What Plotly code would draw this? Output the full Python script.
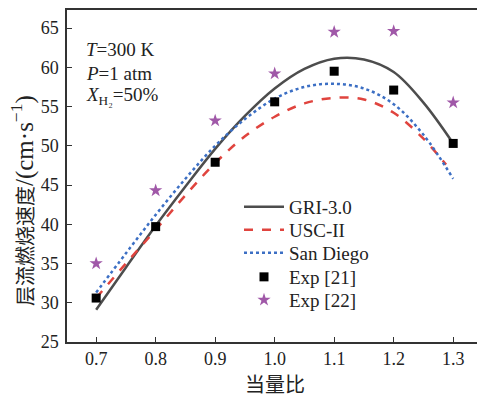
import plotly.graph_objects as go

# ---- data ----
phi_model = [0.70, 0.75, 0.80, 0.85, 0.90, 0.95, 1.00, 1.05, 1.10, 1.15, 1.20, 1.25, 1.30]
gri = [29.1, 34.5, 39.8, 44.8, 49.6, 53.8, 57.3, 59.8, 61.1, 61.0, 59.4, 55.5, 50.3]
phi_usc = [0.70, 0.75, 0.80, 0.85, 0.90, 0.95, 1.00, 1.05, 1.10, 1.15, 1.20, 1.25, 1.288]
usc = [30.6, 35.0, 39.3, 43.7, 47.8, 51.2, 53.7, 55.4, 56.1, 55.9, 54.2, 50.9, 47.6]
sandiego = [31.3, 36.3, 41.2, 45.8, 50.0, 53.4, 56.0, 57.5, 57.9, 57.3, 55.3, 51.4, 45.8]
phi_exp = [0.7, 0.8, 0.9, 1.0, 1.1, 1.2, 1.3]
exp21 = [30.6, 39.7, 47.9, 55.6, 59.5, 57.1, 50.3]
exp22 = [35.0, 44.3, 53.2, 59.2, 64.5, 64.6, 55.5]
x_ticks = [0.7, 0.8, 0.9, 1.0, 1.1, 1.2, 1.3]
x_ticklabels = ["0.7", "0.8", "0.9", "1.0", "1.1", "1.2", "1.3"]
y_ticks = [25, 30, 35, 40, 45, 50, 55, 60, 65]

FONT = "Times New Roman, Liberation Serif, Noto Sans CJK SC, serif"
AX = "#333333"

# plot area in pixels (for placing legends / labels)
L, T, W, H = 67, 10, 410, 332


def px_to_paper_y(py):
    return (T + H - py) / H


legend_names = ["legend", "legend2", "legend3", "legend4", "legend5"]
legend_centers = [207, 230, 253, 277, 300]

fig = go.Figure()
fig.add_trace(go.Scatter(x=phi_model, y=gri, mode="lines", name="GRI-3.0",
                         line=dict(color="#4d4d4d", width=2.5, shape="spline"),
                         legend=legend_names[0]))
fig.add_trace(go.Scatter(x=phi_usc, y=usc, mode="lines", name="USC-II",
                         line=dict(color="#e0443e", width=2.5, dash="dash", shape="spline"),
                         legend=legend_names[1]))
fig.add_trace(go.Scatter(x=phi_model, y=sandiego, mode="lines", name="San Diego",
                         line=dict(color="#3c6fc4", width=2.5, dash="dot", shape="spline"),
                         legend=legend_names[2]))
fig.add_trace(go.Scatter(x=phi_exp, y=exp21, mode="markers", name="Exp [21]",
                         marker=dict(symbol="square", size=9, color="black"),
                         legend=legend_names[3]))
fig.add_trace(go.Scatter(x=phi_exp, y=exp22, mode="markers", name="Exp [22]",
                         marker=dict(symbol="star", size=10, color="#a058a8"),
                         legend=legend_names[4]))

legend_layout = {}
for name, yc in zip(legend_names, legend_centers):
    legend_layout[name] = dict(x=(239 - L) / W, y=px_to_paper_y(yc),
                               xanchor="left", yanchor="middle",
                               bgcolor="rgba(0,0,0,0)",
                               font=dict(size=19, family=FONT, color="#222222"),
                               itemwidth=40)

fig.update_layout(
    width=477, height=397,
    margin=dict(l=L, r=0, t=T, b=397 - T - H),
    paper_bgcolor="white", plot_bgcolor="white",
    font=dict(family=FONT, size=17, color="#222222"),
    showlegend=True,
    xaxis=dict(range=[0.651, 1.340], tickvals=x_ticks, ticktext=x_ticklabels,
               ticks="inside", ticklen=5, tickwidth=1.2, tickcolor=AX,
               showline=True, linecolor=AX, linewidth=1.5, mirror=True,
               showgrid=False, zeroline=False,
               tickfont=dict(size=18, family=FONT)),
    yaxis=dict(range=[25, 67.3], tickvals=y_ticks,
               ticks="inside", ticklen=5, tickwidth=1.2, tickcolor=AX,
               showline=True, linecolor=AX, linewidth=1.5, mirror=False,
               showgrid=False, zeroline=False, ticklabelstandoff=3,
               tickfont=dict(size=18, family=FONT)),
    **legend_layout,
)

# axis titles
fig.add_annotation(text="当量比", xref="paper", yref="paper",
                   x=(275 - L) / W, y=px_to_paper_y(385),
                   xanchor="center", yanchor="middle", showarrow=False,
                   font=dict(size=20, family=FONT))
fig.add_annotation(text="层流燃烧速度<span style=\"font-size:25px\">/(cm·s<sup>−1</sup>)</span>",
                   xref="paper", yref="paper",
                   x=(22 - L) / W, y=px_to_paper_y(201), textangle=-90,
                   xanchor="center", yanchor="middle", showarrow=False,
                   font=dict(size=20, family=FONT))

# condition labels
for txt, yc in [("<i>T</i>=300 K", 49), ("<i>P</i>=1 atm", 73),
                ("<i>X</i><sub>H₂</sub>=50%", 96)]:
    fig.add_annotation(text=txt, xref="paper", yref="paper",
                       x=(84 - L) / W, y=px_to_paper_y(yc),
                       xanchor="left", yanchor="middle", showarrow=False,
                       font=dict(size=19, family=FONT))

fig.write_html("out.html")
